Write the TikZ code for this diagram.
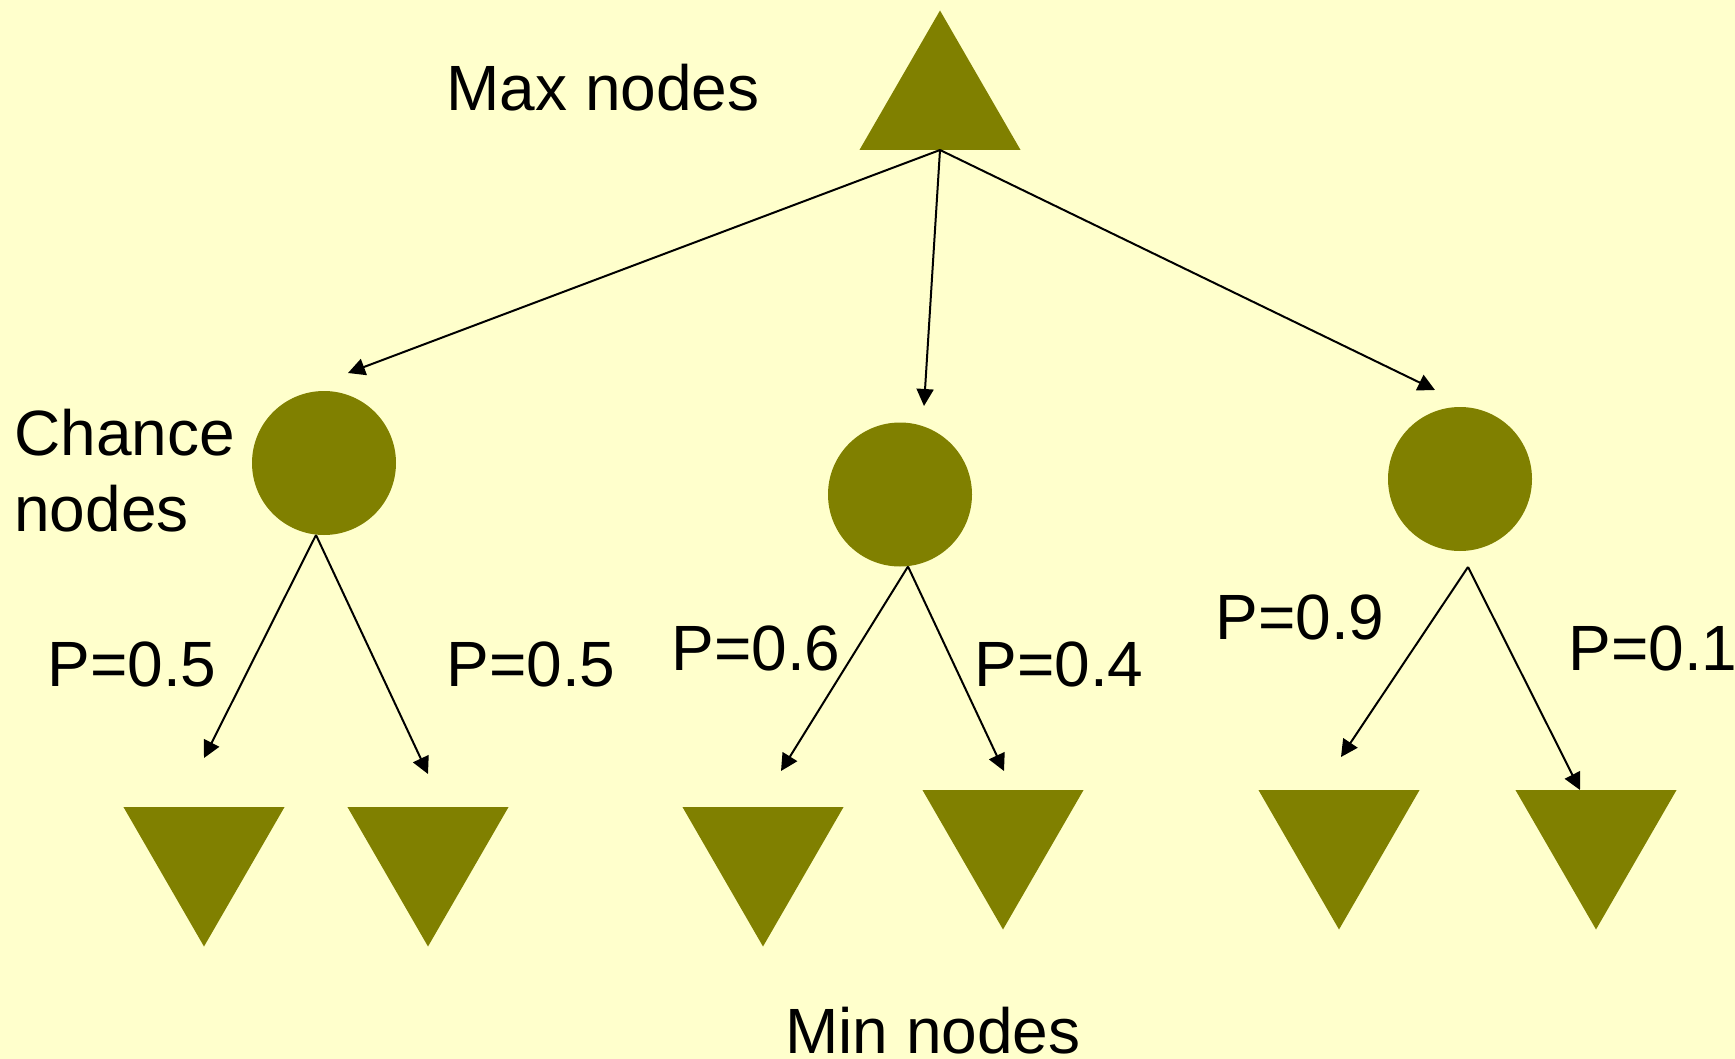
\documentclass[tikz,border=0pt]{standalone}
\usepackage{fontspec}
\setmainfont{Liberation Sans}
\usepackage{xcolor}
\usepackage{tikz}
\usetikzlibrary{arrows.meta,positioning,shapes.geometric}
\definecolor{paper}{HTML}{FFFFCC}
\definecolor{leaf}{HTML}{808000}

\begin{document}
\begin{tikzpicture}[x=0.5pt, y=-0.5pt,
    maxnode/.style={regular polygon, regular polygon sides=3, fill=leaf, minimum size=93pt, inner sep=0pt, outer sep=0pt},
    minnode/.style={maxnode, shape border rotate=180},
    chance/.style={circle, fill=leaf, minimum size=72pt, inner sep=0pt, outer sep=0pt},
    txt/.style={inner sep=0pt, anchor=base west, font=\fontsize{32}{38}\selectfont},
    link/.style={-{Triangle[length=8.5pt, width=8.5pt]}, line width=1pt}]
            \useasboundingbox (0,0) rectangle (1735,1059);
            \fill [paper] (0,0) rectangle (1735,1059);

            \node (max) [maxnode] at (940,103.5) {};
            \node (c1) [chance] at (324,463) {};
            \node (c2) [chance] at (900,494.5) {};
            \node (c3) [chance] at (1460,479) {};
            \node (m1) [minnode] at (204,853.5) {};
            \node (m2) [minnode] at (428,853.5) {};
            \node (m3) [minnode] at (763,853.5) {};
            \node (m4) [minnode] at (1003,836.5) {};
            \node (m5) [minnode] at (1339,836.5) {};
            \node (m6) [minnode] at (1596,836.5) {};

            \node (maxlbl) [txt] at (446,111) {Max nodes};
            \node (chancelbl) [txt, align=left] at (14,531) {Chance\\nodes};
            \node (p1) [txt] at (47,686) {P=0.5};
            \node (p2) [txt] at (446,686) {P=0.5};
            \node (p3) [txt] at (671,670) {P=0.6};
            \node (p4) [txt] at (974,686) {P=0.4};
            \node (p5) [txt] at (1215,639) {P=0.9};
            \node (p6) [txt] at (1568,670) {P=0.1};
            \node (minlbl) [txt] at (785,1053) {Min nodes};

            \coordinate (t1) at (348,373);
            \coordinate (t2) at (924,406);
            \coordinate (t3) at (1435,390);
            \coordinate (f1) at ([xshift=-4pt]c1.south);
            \coordinate (f2) at ([xshift=4pt]c2.south);
            \coordinate (f3) at ([shift={(4pt,-8pt)}]c3.south);
            \coordinate (u1) at (204,758);
            \coordinate (u2) at (428,774);
            \coordinate (u3) at (781,771);
            \coordinate (u4) at (1004,771);
            \coordinate (u5) at (1341,757);
            \coordinate (u6) at (1580,790);

            \draw [link] (max.side 2) -- (t1);
            \draw [link] (max.side 2) -- (t2);
            \draw [link] (max.side 2) -- (t3);
            \draw [link] (f1) -- (u1);
            \draw [link] (f1) -- (u2);
            \draw [link] (f2) -- (u3);
            \draw [link] (f2) -- (u4);
            \draw [link] (f3) -- (u5);
            \draw [link] (f3) -- (u6);
\end{tikzpicture}
\end{document}
